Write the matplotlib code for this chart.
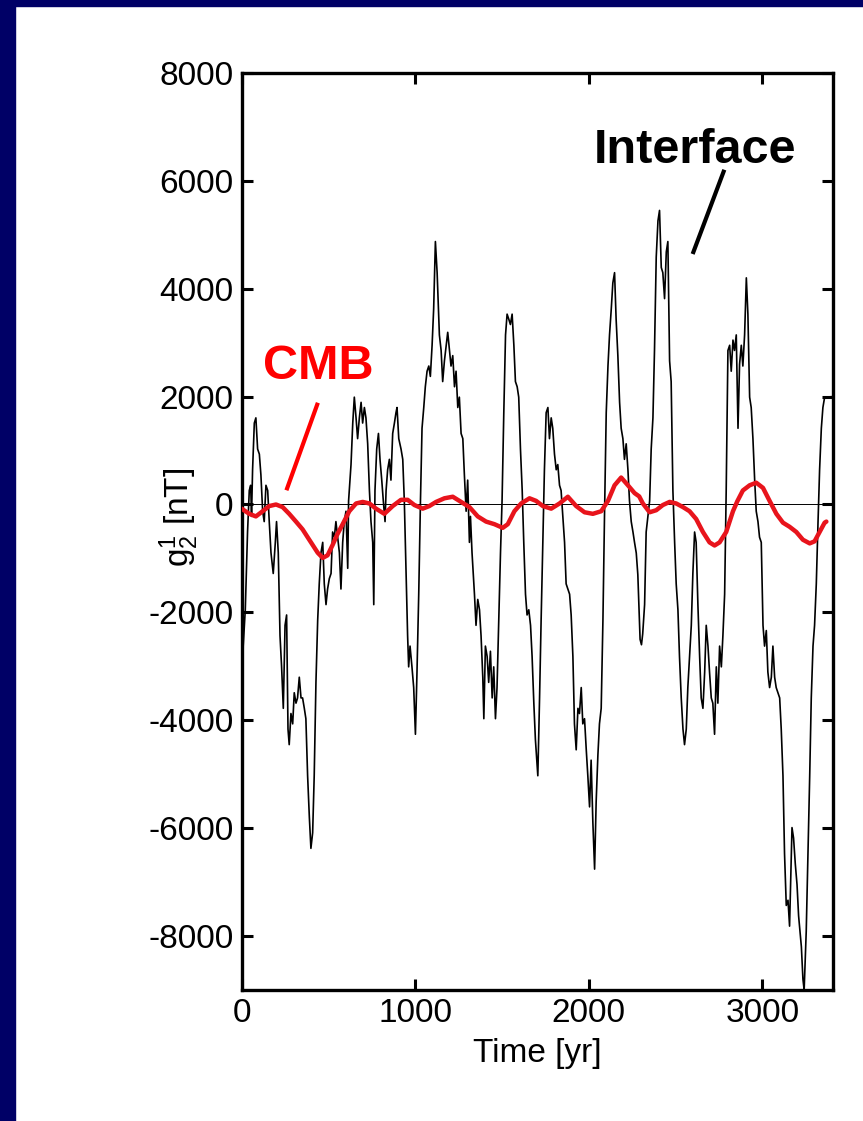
import matplotlib
matplotlib.use('Agg')

import matplotlib.pyplot as plt
from matplotlib.patches import Rectangle

plt.rcParams['font.family'] = ['Liberation Sans', 'DejaVu Sans']
plt.rcParams['mathtext.fontset'] = 'custom'
plt.rcParams['mathtext.rm'] = 'Liberation Sans'
plt.rcParams['mathtext.it'] = 'Liberation Sans'
plt.rcParams['axes.unicode_minus'] = False

# g_2^1 at the interface (black, noisy)
interface_t = [0, 9, 21, 34, 44, 52, 57, 63, 73, 82, 92, 102, 111, 121, 130, 140,
               150, 159, 169, 182, 194, 201, 211, 221, 230, 240, 250, 259, 267,
               274, 284, 294, 303, 313, 322, 332, 342, 351, 361, 370, 380, 390,
               399, 409, 418, 428, 438, 447, 457, 467, 476, 486, 495, 505, 515,
               524, 534, 543, 563, 572, 582, 591, 601, 611, 616, 630, 640, 649,
               659, 668, 678, 688, 697, 707, 716, 726, 736, 745, 755, 761, 768,
               778, 788, 797, 807, 816, 826, 832, 841, 851, 860, 870, 880, 889,
               895, 905, 918, 928, 937, 947, 956, 962, 970, 981, 991, 1001, 1010,
               1020, 1030, 1039, 1049, 1058, 1068, 1078, 1087, 1097, 1106, 1116,
               1126, 1139, 1149, 1158, 1168, 1187, 1197, 1206, 1216, 1226, 1235,
               1245, 1254, 1264, 1274, 1283, 1293, 1302, 1312, 1318, 1327, 1341,
               1350, 1360, 1370, 1379, 1389, 1395, 1404, 1414, 1423, 1433, 1443,
               1452, 1462, 1471, 1481, 1491, 1500, 1510, 1520, 1529, 1539, 1548,
               1558, 1568, 1577, 1587, 1596, 1606, 1616, 1625, 1635, 1644, 1654,
               1664, 1673, 1683, 1692, 1706, 1716, 1725, 1735, 1744, 1754, 1764,
               1773, 1783, 1792, 1802, 1812, 1821, 1831, 1840, 1850, 1860, 1869,
               1879, 1889, 1898, 1908, 1917, 1927, 1937, 1946, 1956, 1965, 1975,
               1985, 1994, 2004, 2013, 2023, 2033, 2042, 2052, 2061, 2071, 2081,
               2090, 2100, 2110, 2119, 2129, 2138, 2148, 2157, 2167, 2177, 2186,
               2196, 2205, 2215, 2225, 2234, 2244, 2254, 2263, 2273, 2282, 2295,
               2303, 2310, 2321, 2330, 2340, 2350, 2359, 2369, 2378, 2388, 2398,
               2407, 2417, 2426, 2436, 2446, 2455, 2465, 2474, 2484, 2494, 2503,
               2513, 2522, 2532, 2542, 2551, 2561, 2570, 2580, 2590, 2599, 2609,
               2618, 2628, 2638, 2647, 2657, 2667, 2676, 2686, 2695, 2705, 2714,
               2724, 2734, 2743, 2753, 2763, 2772, 2782, 2791, 2801, 2811, 2820,
               2830, 2839, 2849, 2859, 2868, 2878, 2887, 2897, 2907, 2916, 2926,
               2935, 2945, 2955, 2964, 2974, 2983, 2993, 3003, 3012, 3022, 3031,
               3041, 3051, 3060, 3070, 3079, 3089, 3099, 3108, 3118, 3127, 3137,
               3147, 3156, 3162, 3170, 3179, 3189, 3199, 3208, 3224, 3233, 3240,
               3252, 3262, 3272, 3281, 3291, 3300, 3310, 3320, 3329, 3339, 3348,
               3358, 3405]
interface_g = [-5300, -2625, -1950, -510, 260, 356, -220, 644, 1510, 1606, 1029,
               933, 548, -125, -317, 356, 260, -317, -894, -1279, -702, -317,
               -894, -2433, -3000, -3779, -2240, -2048, -4163, -4452, -3875,
               -4067, -3490, -3683, -3586, -3202, -3586, -3586, -3779, -3971,
               -5029, -5798, -6375, -6086, -5029, -3298, -2144, -1471, -894,
               -702, -1471, -1856, -1567, -1375, -1279, -510, -606, -317, -894,
               -1567, -702, -317, -125, -1183, 67, 740, 1510, 1990, 1606, 1221,
               1606, 1894, 1510, 1798, 1606, 1125, 260, -317, -702, -1856, 260,
               1029, 1317, 837, 452, 67, -317, 260, 644, 837, 452, 1317, 1510,
               1702, 1798, 1221, 1029, 837, 67, -1279, -2433, -3010, -2625,
               -3010, -3394, -4260, -3106, -1663, 67, 1413, 1798, 2183, 2471,
               2567, 2375, 2952, 3625, 4875, 4298, 3144, 2856, 2279, 2663, 3192,
               2856, 2567, 2760, 2183, 2471, 1798, 1990, 1317, 1221, 548, -125,
               452, -702, -221, -894, -1663, -2240, -1760, -1952, -2433, -3202,
               -3971, -2625, -2817, -3298, -2721, -3586, -3010, -3971, -3394,
               -2144, -894, 67, 1702, 3144, 3529, 3433, 3337, 3529, 2952, 2279,
               2183, 1990, 1029, 260, -702, -1663, -2048, -1952, -2240, -2817,
               -3683, -4356, -5029, -3586, -2144, -702, 644, 1702, 1798, 1221,
               1606, 1413, 933, 644, 740, 356, 260, -221, -702, -1471, -1567,
               -1663, -2048, -2817, -4067, -4548, -3779, -3875, -3394, -4067,
               -3971, -4548, -5029, -5606, -4740, -5894, -6760, -5510, -4644,
               -4067, -3779, -2144, -221, 1702, 2567, 3144, 3625, 4106, 4298,
               3433, 2760, 1894, 1413, 1221, 837, 1125, 644, 67, -317, -510,
               -702, -900, -1300, -2500, -2600, -2400, -1856, -510, -221, 67,
               1029, 1606, 2856, 4587, 5260, 5452, 4394, 4298, 3817, 4683, 4875,
               2663, 2279, 260, -702, -1471, -1952, -2817, -3586, -4163, -4452,
               -4163, -3394, -2817, -2240, -1279, -510, -702, -1856, -2817,
               -3586, -3779, -3106, -2240, -2625, -3106, -3586, -3683, -4260,
               -3010, -3683, -2625, -3010, -2433, -1663, 260, 2856, 2952, 2471,
               3048, 2856, 3144, 1413, 2600, 2952, 2567, 3144, 4202, 3529, 1990,
               1798, 1221, 452, -125, -317, -606, -702, -2240, -2625, -2337,
               -3106, -3394, -3202, -2625, -3202, -3394, -3490, -3586, -4163,
               -5029, -6471, -7433, -7337, -7817, -7048, -5990, -6183, -6663,
               -7048, -7625, -8200, -8800, -9000, -7913, -6471, -5029, -3586,
               -2625, -2240, -1471, -317, 644, 1413, 1798, 1990, 2000]

# g_2^1 at the CMB (red, smooth)
cmb_t = [0, 44, 82, 121, 159, 198, 236, 274, 313, 351, 380, 409, 438, 467, 495,
         524, 550, 582, 620, 659, 697, 736, 774, 822, 870, 918, 956, 995, 1043,
         1081, 1120, 1168, 1216, 1264, 1312, 1360, 1408, 1456, 1504, 1533,
         1571, 1610, 1658, 1696, 1735, 1783, 1831, 1879, 1927, 1975, 2023,
         2071, 2110, 2148, 2186, 2225, 2263, 2290, 2311, 2350, 2388, 2426,
         2465, 2503, 2542, 2580, 2618, 2657, 2695, 2724, 2753, 2791, 2830,
         2855, 2887, 2926, 2964, 3003, 3041, 3080, 3118, 3156, 3195, 3233,
         3272, 3300, 3329, 3358, 3368]
cmb_g = [-77, -173, -221, -125, -29, 0, -48, -173, -317, -461, -606, -750, -894,
         -990, -942, -750, -560, -365, -125, 19, 48, 19, -77, -173, -29, 87, 87,
         -10, -77, -29, 48, 115, 144, 48, -48, -221, -317, -365, -433, -365,
         -125, 19, 115, 67, -29, -77, 19, 144, -29, -144, -173, -125, 67, 356,
         500, 356, 212, 150, 19, -144, -106, -10, 48, 19, -48, -125, -269,
         -510, -702, -760, -702, -510, -125, 60, 260, 356, 404, 308, 67, -173,
         -337, -413, -510, -654, -721, -683, -510, -337, -317]

navy = '#000066'

fig = plt.figure(figsize=(8.63, 11.21), dpi=100)
fig.patch.set_facecolor('white')
# dark blue slide frame on the left and top
fig.patches.append(Rectangle((0, 0), 15 / 863, 1, transform=fig.transFigure,
                             color=navy, zorder=0))
fig.patches.append(Rectangle((0, 1 - 6 / 1121), 1, 6 / 1121,
                             transform=fig.transFigure, color=navy, zorder=0))

ax = fig.add_axes([0.280, 0.1169, 0.685, 0.818])
ax.axhline(0, color='black', lw=0.7, zorder=1)
ax.plot(interface_t, interface_g, color='black', lw=1.2, zorder=2)
ax.plot(cmb_t, cmb_g, color='#e8141c', lw=3.2, zorder=3,
        solid_joinstyle='round', solid_capstyle='round')

ax.set_xlim(0, 3405)
ax.set_ylim(-9000, 8000)
ax.set_xticks([0, 1000, 2000, 3000])
ax.set_yticks(range(-8000, 8001, 2000))
ax.tick_params(direction='in', length=8, width=2.2, labelsize=24, pad=6,
               top=True, right=True)
for s in ax.spines.values():
    s.set_linewidth(2.4)

ax.set_xlabel('Time [yr]', fontsize=24, labelpad=6)
ax.set_ylabel(r'g$_2^1$ [nT]', fontsize=24)
ax.yaxis.set_label_coords(-0.068, 0.515)

# annotations
ax.text(440, 2550, 'CMB', color='#ff0000', fontsize=35, fontweight='bold',
        ha='center', va='center')
ax.plot([435, 262], [1850, 300], color='#ff0000', lw=3)
ax.text(2610, 6560, 'Interface', color='black', fontsize=35,
        fontweight='bold', ha='center', va='center')
ax.plot([2776, 2602], [6170, 4680], color='black', lw=3)

fig.savefig('out.png', dpi=100)
